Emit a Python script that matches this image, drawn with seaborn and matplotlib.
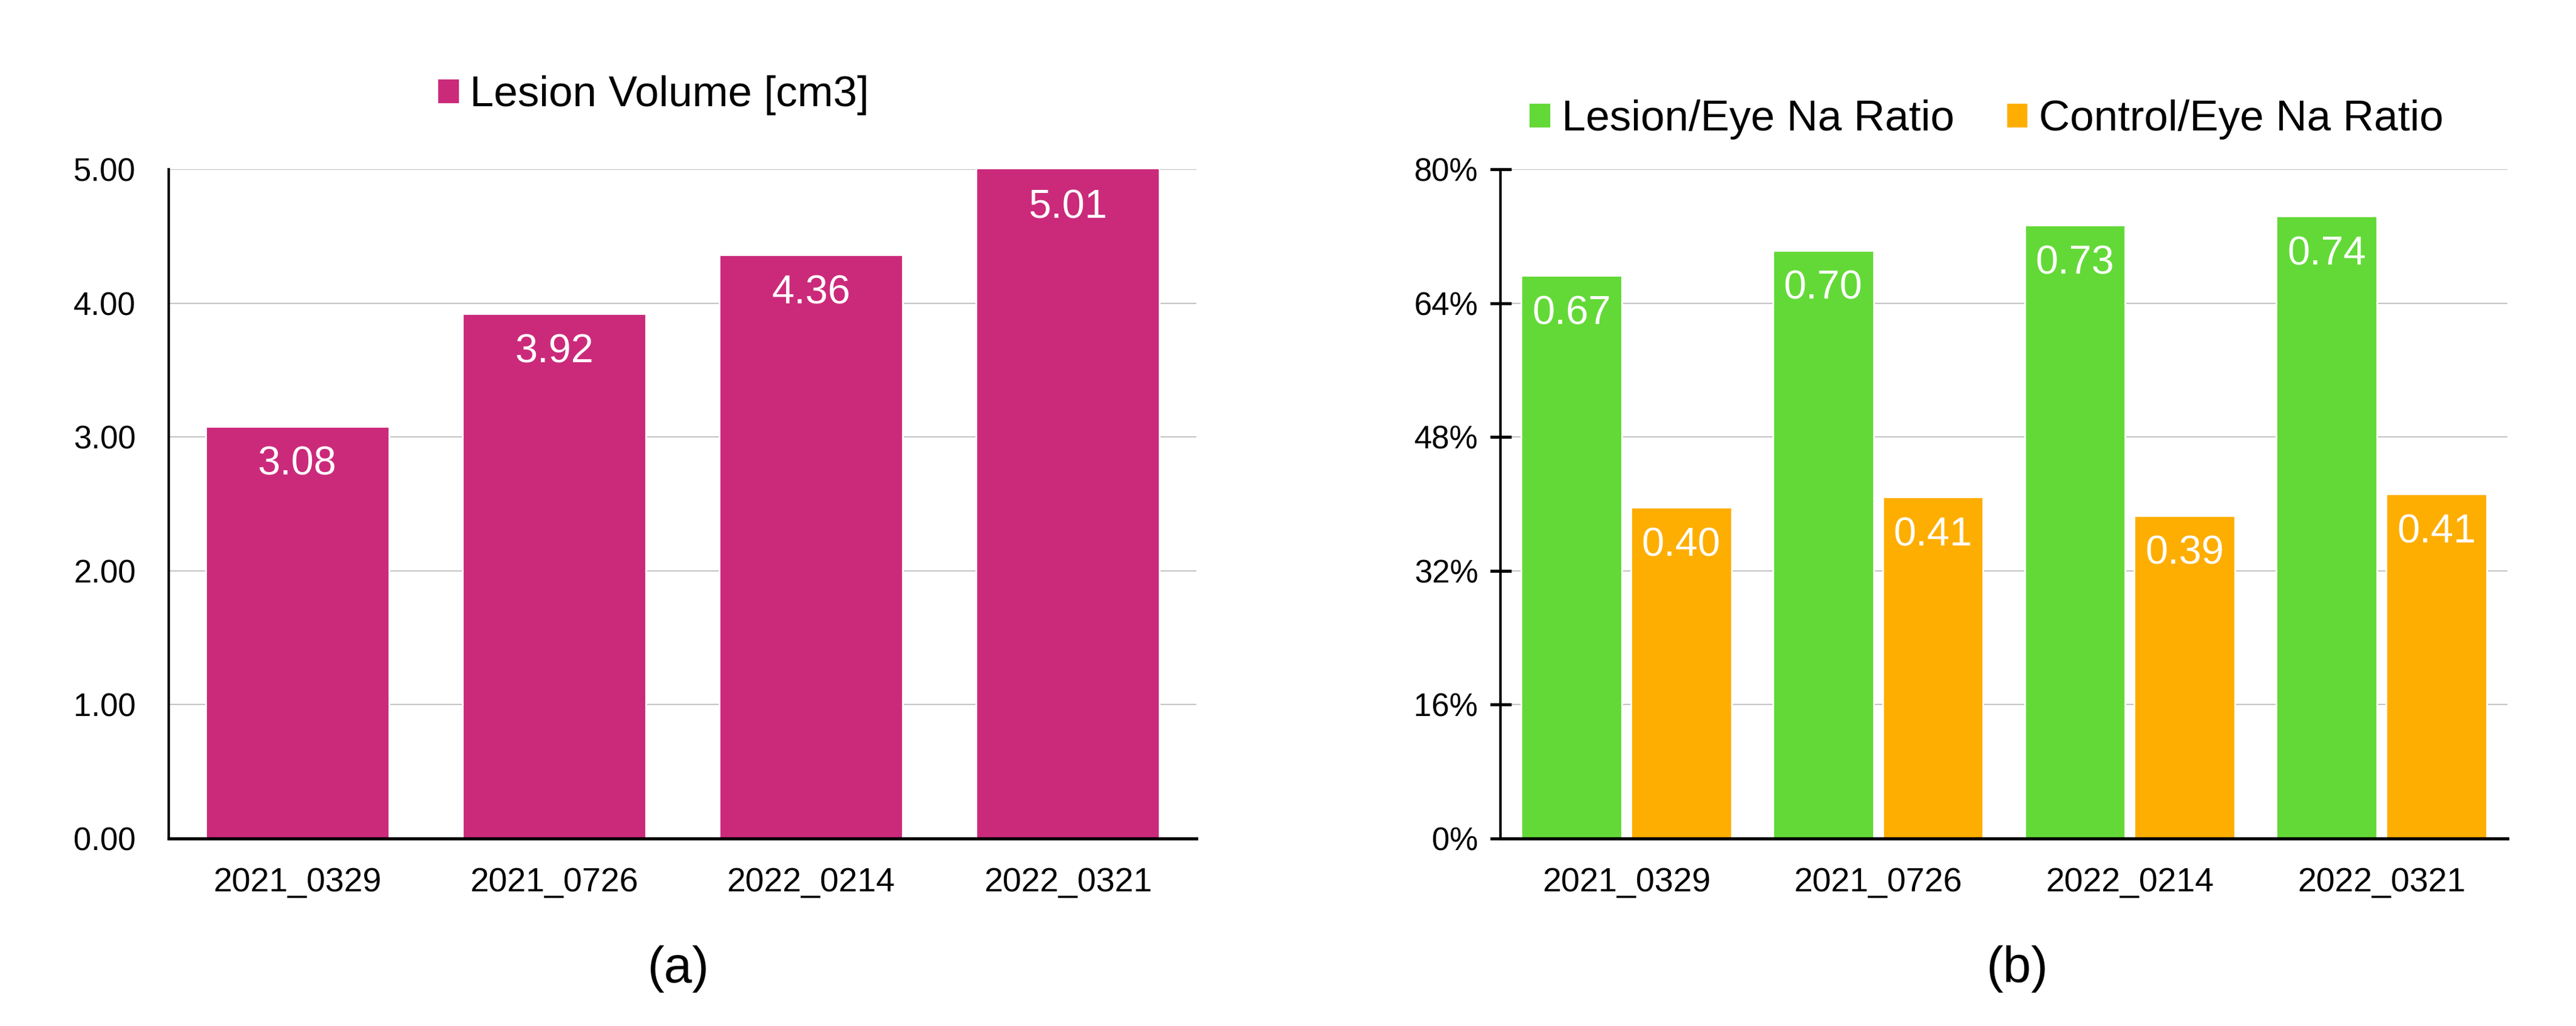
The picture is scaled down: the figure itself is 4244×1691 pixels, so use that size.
import matplotlib
matplotlib.use("Agg")
import matplotlib.pyplot as plt
import seaborn as sns
import pandas as pd
from matplotlib.patches import Patch
from matplotlib.ticker import FuncFormatter, FixedLocator

# ---- data ----
dates = ["2021_0329", "2021_0726", "2022_0214", "2022_0321"]
lesion_volume = [3.08, 3.92, 4.36, 5.01]
lesion_eye_ratio = [0.673, 0.703, 0.733, 0.744]
control_eye_ratio = [0.396, 0.408, 0.386, 0.412]
series_b = ["Lesion/Eye Na Ratio", "Control/Eye Na Ratio"]
vol_label = "Lesion Volume [cm3]"
ticks_a = [0, 1, 2, 3, 4, 5]
ticks_b = [0, 0.16, 0.32, 0.48, 0.64, 0.80]
panel_labels = ["(a)", "(b)"]

MAGENTA = "#CB2A7B"
GREEN = "#63D937"
ORANGE = "#FEAE00"

sns.set_theme(style="white")
plt.rcParams["font.family"] = ["Liberation Sans", "DejaVu Sans"]
plt.rcParams["text.color"] = "black"

W, H, DPI = 4244, 1691, 200
fig = plt.figure(figsize=(W / DPI, H / DPI), dpi=DPI)

def fx(px):
    return px / W

def fy(py):
    return 1 - py / H

ax_a = fig.add_axes([fx(278), fy(1382), fx(1971 - 278), (1382 - 279) / H])
ax_b = fig.add_axes([fx(2472), fy(1382), fx(4131 - 2472), (1382 - 279) / H])

XTICK_FS = 20
YTICK_FS = 19
BAR_FS = 24
LEG_FS = 25.5

# ---- panel a ----
df_a = pd.DataFrame({"date": dates, "value": lesion_volume})
sns.barplot(data=df_a, x="date", y="value", color=MAGENTA, saturation=1,
            width=0.714, ax=ax_a, errorbar=None)
ax_a.set_ylim(0, 5)
ax_a.set_xlim(-0.5, 3.5)
ax_a.yaxis.set_major_locator(FixedLocator(ticks_a))
ax_a.yaxis.set_major_formatter(FuncFormatter(lambda v, p: f"{v:.2f}"))

# ---- panel b ----
df_b = pd.DataFrame({
    "date": dates * 2,
    "value": lesion_eye_ratio + control_eye_ratio,
    "series": [series_b[0]] * 4 + [series_b[1]] * 4,
})
sns.barplot(data=df_b, x="date", y="value", hue="series",
            palette=[GREEN, ORANGE], saturation=1, width=0.872, gap=0.0826,
            ax=ax_b, errorbar=None, legend=False)
ax_b.set_ylim(0, 0.8)
ax_b.set_xlim(-0.5, 3.5)
ax_b.yaxis.set_major_locator(FixedLocator(ticks_b))
ax_b.yaxis.set_major_formatter(FuncFormatter(lambda v, p: f"{v*100:.0f}%"))

for ax in (ax_a, ax_b):
    ax.set_xlabel("")
    ax.set_ylabel("")
    ax.grid(axis="y", color="#B8B8B8", linewidth=0.6)
    ax.set_axisbelow(True)
    for s in ("top", "right"):
        ax.spines[s].set_visible(False)
    ax.spines["left"].set_color("black")
    ax.spines["left"].set_linewidth(1.5)
    ax.spines["bottom"].set_color("black")
    ax.spines["bottom"].set_linewidth(1.9)
    ax.spines["bottom"].set_zorder(5)
    ax.tick_params(axis="x", length=0, pad=17, labelsize=XTICK_FS, labelcolor="black")
    for c in ax.containers:
        labels = [f"{v:.2f}" for v in c.datavalues]
        for rect, lab in zip(c, labels):
            h = min(rect.get_height(), ax.get_ylim()[1])
            ax.annotate(lab, (rect.get_x() + rect.get_width() / 2, h),
                        xytext=(0, -22.7), textcoords="offset points",
                        ha="center", va="center", color="white",
                        fontsize=BAR_FS)

ax_a.tick_params(axis="y", length=0, pad=19.5, labelsize=YTICK_FS, labelcolor="black")
ax_b.tick_params(axis="y", length=12.6, width=1.8, direction="inout", pad=7,
                 labelsize=YTICK_FS, labelcolor="black", left=True, color="black")

# ---- legends ----
leg_a = fig.legend(handles=[Patch(facecolor=MAGENTA, label=vol_label)],
                   loc="center", bbox_to_anchor=(fx(1076), fy(157)),
                   frameon=False, fontsize=LEG_FS, handlelength=0.52,
                   handleheight=0.52, handletextpad=0.25, borderpad=0,
                   labelcolor="black")
leg_b = fig.legend(handles=[Patch(facecolor=GREEN, label=series_b[0]),
                            Patch(facecolor=ORANGE, label=series_b[1])],
                   loc="center", bbox_to_anchor=(fx(3272), fy(197)), ncol=2,
                   frameon=False, fontsize=LEG_FS, handlelength=0.52,
                   handleheight=0.52, handletextpad=0.25, columnspacing=1.2,
                   borderpad=0, labelcolor="black")

# ---- panel labels ----
fig.text(fx(1118), fy(1597), panel_labels[0], ha="center", va="center",
         fontsize=30, color="black")
fig.text(fx(3324), fy(1597), panel_labels[1], ha="center", va="center",
         fontsize=30, color="black")

fig.savefig("out.png", dpi=DPI, facecolor="white")
